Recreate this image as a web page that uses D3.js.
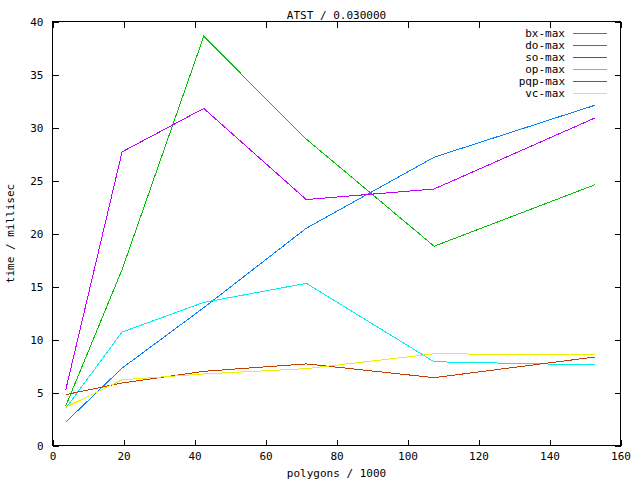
<!DOCTYPE html>
<html>
<head>
<meta charset="utf-8">
<script src="https://cdn.jsdelivr.net/npm/d3@7"></script>
<style>
  html, body { margin: 0; padding: 0; background: #fff; }
  svg { display: block; }
  text { font-family: "DejaVu Sans Mono", "Liberation Mono", monospace; font-size: 11px; fill: #000; }
</style>
</head>
<body>
<script>
const title = "ATST / 0.030000";
const xLabel = "polygons / 1000";
const yLabel = "time / millisec";
const xValues = [3.7, 19.6, 42.6, 71.5, 107.5, 152.8];
const seriesNames = ["bx-max", "do-max", "so-max", "op-max", "pqp-max", "vc-max"];
const bxMax  = [3.7, 16.6, 38.6, 28.9, 18.8, 24.6];
const doMax  = [2.2, 7.3, 13.0, 20.5, 27.2, 32.1];
const soMax  = [5.2, 27.7, 31.8, 23.2, 24.2, 30.9];
const opMax  = [3.5, 10.7, 13.5, 15.3, 7.9, 7.6];
const pqpMax = [4.8, 5.9, 7.0, 7.7, 6.4, 8.35];
const vcMax  = [3.6, 6.2, 6.75, 7.25, 8.65, 8.56];
const seriesValues = [bxMax, doMax, soMax, opMax, pqpMax, vcMax];
const colors = ["#00c000", "#0080ff", "#c000ff", "#00eeee", "#c04000", "#eeee00"];
const xTicks = [0, 20, 40, 60, 80, 100, 120, 140, 160];
const yTicks = [0, 5, 10, 15, 20, 25, 30, 35, 40];

const W = 640, H = 480;
const L = 52.5, R = 620.5, T = 21.5, B = 445.5;
const tick = 6;

const svg = d3.select("body").append("svg").attr("width", W).attr("height", H);

const x = d3.scaleLinear().domain([0, 160]).range([L, R]);
const y = d3.scaleLinear().domain([0, 40]).range([B, T]);

const ax = svg.append("g").attr("shape-rendering", "crispEdges");
const bottomAxis = d3.axisBottom(x).tickValues(xTicks).tickSize(-tick).tickPadding(7).tickFormat(d3.format("d"));
const topAxis = d3.axisTop(x).tickValues(xTicks).tickSize(-tick).tickFormat("");
const leftAxis = d3.axisLeft(y).tickValues(yTicks).tickSize(-tick).tickPadding(9).tickFormat(d3.format("d"));
const rightAxis = d3.axisRight(y).tickValues(yTicks).tickSize(-tick).tickFormat("");

function styleAxis(g) {
  g.select(".domain").remove();
  g.selectAll("line").attr("stroke", "#000");
  g.selectAll("text").attr("font-family", null).attr("font-size", null).attr("fill", "#000");
}
ax.append("g").attr("transform", `translate(0,${B})`).call(bottomAxis).call(styleAxis);
ax.append("g").attr("transform", `translate(0,${T})`).call(topAxis).call(styleAxis);
ax.append("g").attr("transform", `translate(${L},0)`).call(leftAxis).call(styleAxis);
ax.append("g").attr("transform", `translate(${R},0)`).call(rightAxis).call(styleAxis);
ax.append("rect").attr("x", L).attr("y", T).attr("width", R - L).attr("height", B - T)
  .attr("fill", "none").attr("stroke", "#000");

svg.append("text").attr("x", (L + R) / 2).attr("y", 19).attr("text-anchor", "middle").text(title);
svg.append("text").attr("x", (L + R) / 2).attr("y", 477).attr("text-anchor", "middle").text(xLabel);
svg.append("text").attr("transform", `translate(14,${(T + B) / 2}) rotate(-90)`)
  .attr("text-anchor", "middle").text(yLabel);

const line = d3.line().x((d, i) => x(xValues[i])).y(d => y(d));
const lines = svg.append("g").attr("shape-rendering", "crispEdges");
seriesValues.forEach((vals, k) => {
  lines.append("path").datum(vals).attr("d", line)
    .attr("fill", "none").attr("stroke", colors[k]).attr("stroke-width", 1);
});

const lg = svg.append("g");
seriesNames.forEach((name, k) => {
  const yy = 33 + k * 12;
  lg.append("text").attr("x", 565).attr("y", yy + 4).attr("text-anchor", "end").text(name);
  lg.append("rect").attr("x", 573).attr("y", yy).attr("width", 34).attr("height", 1)
    .attr("fill", colors[k]).attr("shape-rendering", "crispEdges");
});
</script>
</body>
</html>
